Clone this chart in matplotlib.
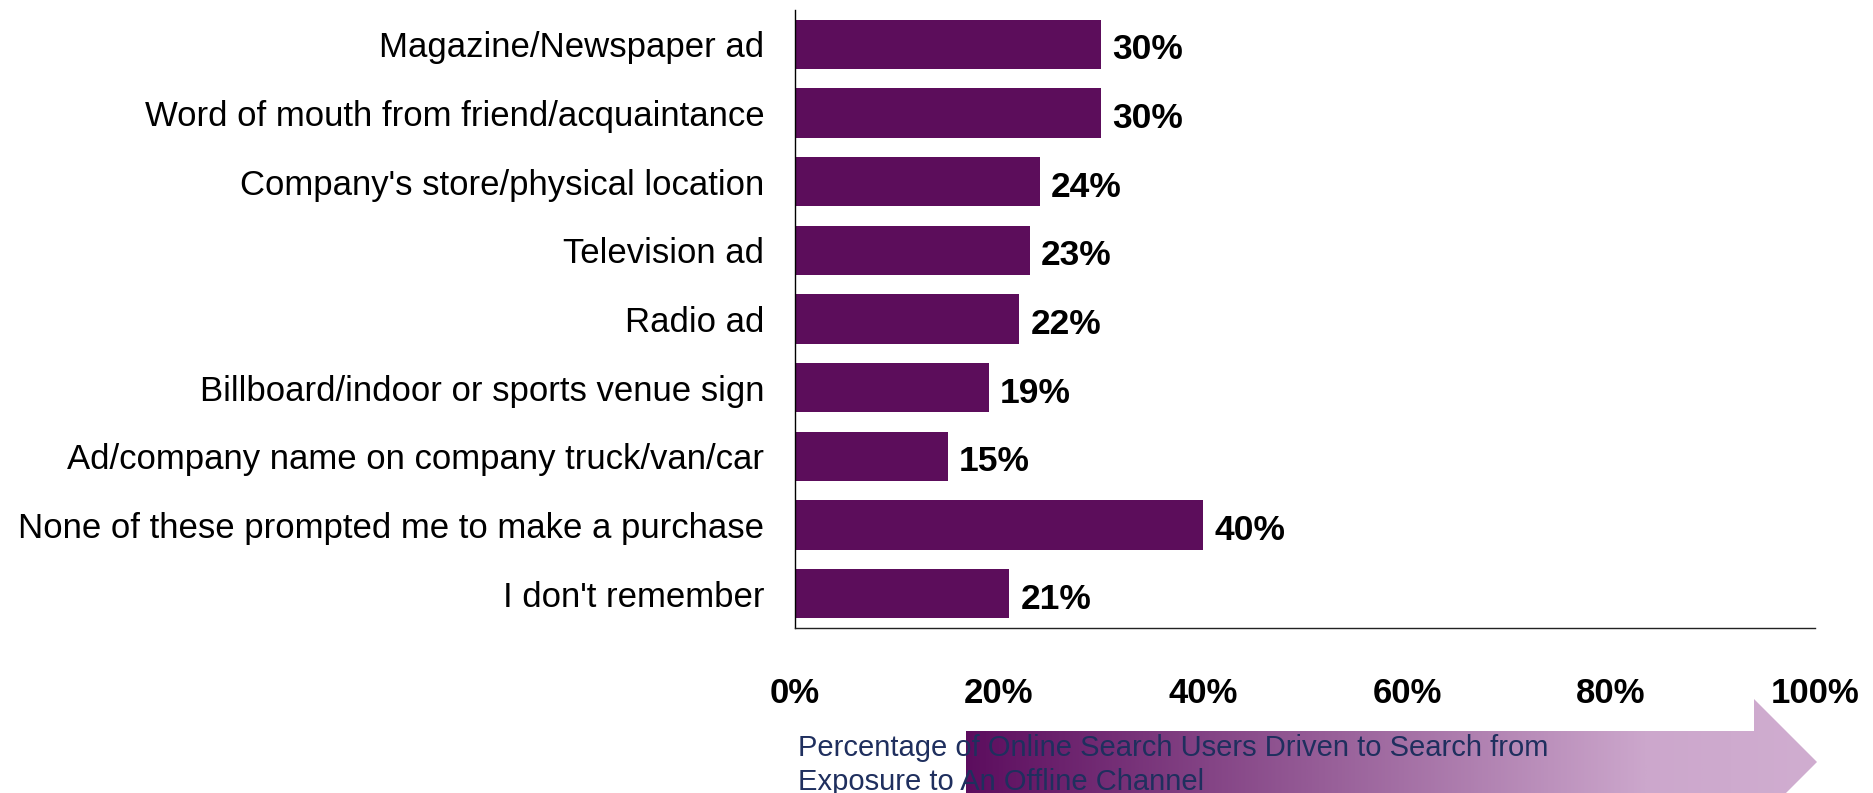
import numpy as np
import matplotlib
matplotlib.use('Agg')
import matplotlib.pyplot as plt
from matplotlib.colors import LinearSegmentedColormap
from matplotlib.patches import Polygon

plt.rcParams['font.family'] = ['Liberation Sans', 'DejaVu Sans']

categories = ['Magazine/Newspaper ad',
              'Word of mouth from friend/acquaintance',
              "Company's store/physical location",
              'Television ad',
              'Radio ad',
              'Billboard/indoor or sports venue sign',
              'Ad/company name on company truck/van/car',
              'None of these prompted me to make a purchase',
              "I don't remember"]
values = [30, 30, 24, 23, 22, 19, 15, 40, 21]
xticks = [0, 20, 40, 60, 80, 100]
xtick_labels = ['0%', '20%', '40%', '60%', '80%', '100%']
arrow_lines = ['Percentage of Online Search Users Driven to Search from',
               'Exposure to An Offline Channel']

W, H = 1874, 793
fig = plt.figure(figsize=(W / 100, H / 100), dpi=100)

# main bar chart
ax = fig.add_axes([795 / W, 1 - 628 / H, (1815 - 795) / W, (628 - 10) / H])
y = np.arange(len(categories))
ax.barh(y, values, height=0.72, color='#5C0D5B')
ax.set_ylim(len(categories) - 0.5, -0.5)
ax.set_xlim(0, 100)
ax.set_yticks(y)
ax.set_yticklabels(categories, fontsize=25)
ax.set_xticks(xticks)
ax.set_xticklabels(xtick_labels, fontsize=25, fontweight='bold')
ax.tick_params(axis='y', length=0, pad=22)
ax.tick_params(axis='x', length=0, pad=35)
ax.spines['top'].set_visible(False)
ax.spines['right'].set_visible(False)
ax.spines['left'].set_linewidth(1.0)
ax.spines['bottom'].set_linewidth(1.0)
ax.spines['bottom'].set_color('#222222')

for yi, v in zip(y, values):
    ax.annotate(f'{v}%', (v, yi), xytext=(8, -4), textcoords='offset points',
                ha='left', va='center', fontsize=25.5, fontweight='bold')

# gradient arrow at the bottom (pixel coords overlay)
ov = fig.add_axes([0, 0, 1, 1])
ov.set_xlim(0, W)
ov.set_ylim(H, 0)
ov.axis('off')
pts = [(966, 731), (1754, 731), (1754, 699), (1817, 762), (1754, 825), (966, 825)]
poly = Polygon(pts, closed=True, facecolor='none', edgecolor='none')
ov.add_patch(poly)
cmap = LinearSegmentedColormap.from_list('arr', [(0, '#5C0D5E'), (0.8, '#CCA7CC'), (1, '#D0ADD0')])
grad = np.linspace(0, 1, 512)[None, :]
im = ov.imshow(grad, cmap=cmap, extent=[966, 1817, 825, 699], aspect='auto', zorder=1)
im.set_clip_path(poly)
ov.set_xlim(0, W)
ov.set_ylim(H, 0)

for i, line in enumerate(arrow_lines):
    ov.text(798, 748 + 34 * i, line, fontsize=21, color='#1F2F5E',
            ha='left', va='center', zorder=3)

fig.savefig('out.png', dpi=100)
